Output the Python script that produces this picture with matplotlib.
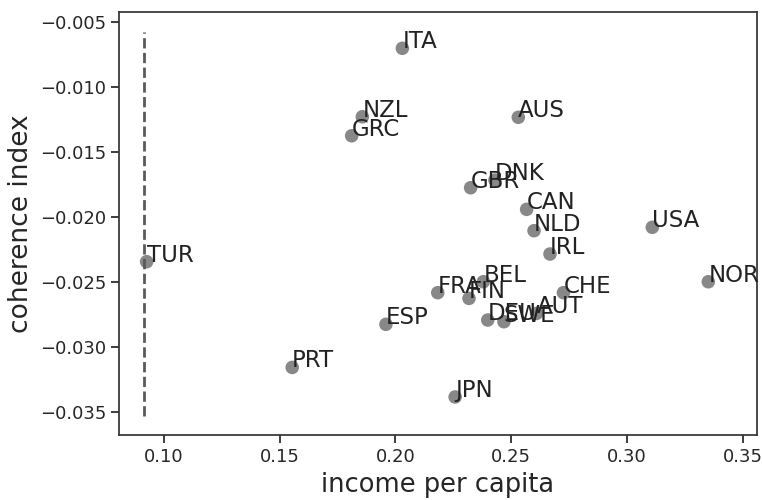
import matplotlib
matplotlib.use("Agg")
from matplotlib import pyplot as plt

# country codes with income per capita / coherence index
countries = ["TUR", "ITA", "NZL", "GRC", "AUS", "GBR", "DNK", "CAN", "NLD", "IRL",
             "BEL", "FRA", "FIN", "CHE", "AUT", "DEU", "SWE", "ESP", "PRT", "JPN",
             "USA", "NOR"]
income = [0.0925, 0.2030, 0.1857, 0.1811, 0.2531, 0.2325, 0.2430, 0.2567, 0.2599, 0.2668,
          0.2380, 0.2183, 0.2318, 0.2726, 0.2610, 0.2399, 0.2469, 0.1959, 0.1554, 0.2258,
          0.3110, 0.3352]
coherence = [-0.02343, -0.00704, -0.01230, -0.01376, -0.01234, -0.01775, -0.01716, -0.01941,
             -0.02105, -0.02284, -0.02497, -0.02581, -0.02625, -0.02581, -0.02740, -0.02791,
             -0.02804, -0.02824, -0.03155, -0.03382, -0.02079, -0.02497]
cutoff = 0.0915

plt.rcParams["font.family"] = ["DejaVu Sans"]
plt.rcParams["text.color"] = ".15"
plt.rcParams["axes.labelcolor"] = ".15"
plt.rcParams["xtick.color"] = ".15"
plt.rcParams["ytick.color"] = ".15"

fig = plt.figure(figsize=(7.62, 5.0), dpi=100)
ax = fig.add_axes([0.1566, 0.13, 0.8364, 0.8466])

ax.scatter(income, coherence, s=95, color="#888888", edgecolors="none", zorder=2)
for name, x, y in zip(countries, income, coherence):
    ax.text(x, y, name, fontsize=16.5, color="#222222", zorder=3)

ax.axvline(cutoff, ymin=0.046, ymax=0.953, color="#5a5a5a", linestyle="--", linewidth=2)

ax.set_xlim(0.0807, 0.3561)
ax.set_ylim(-0.03674, -0.00423)
ax.set_xticks([0.10, 0.15, 0.20, 0.25, 0.30, 0.35])
ax.set_yticks([-0.035, -0.030, -0.025, -0.020, -0.015, -0.010, -0.005])
ax.set_xticklabels(["0.10", "0.15", "0.20", "0.25", "0.30", "0.35"])
ax.set_yticklabels(["\u22120.035", "\u22120.030", "\u22120.025", "\u22120.020",
                    "\u22120.015", "\u22120.010", "\u22120.005"])
ax.tick_params(axis="both", labelsize=13, length=6, width=1.25, direction="out")
for sp in ax.spines.values():
    sp.set_color(".2")
    sp.set_linewidth(1.25)

ax.set_xlabel("income per capita", fontsize=18.5)
ax.set_ylabel("coherence index", fontsize=19)

fig.savefig("out.png", dpi=100)
